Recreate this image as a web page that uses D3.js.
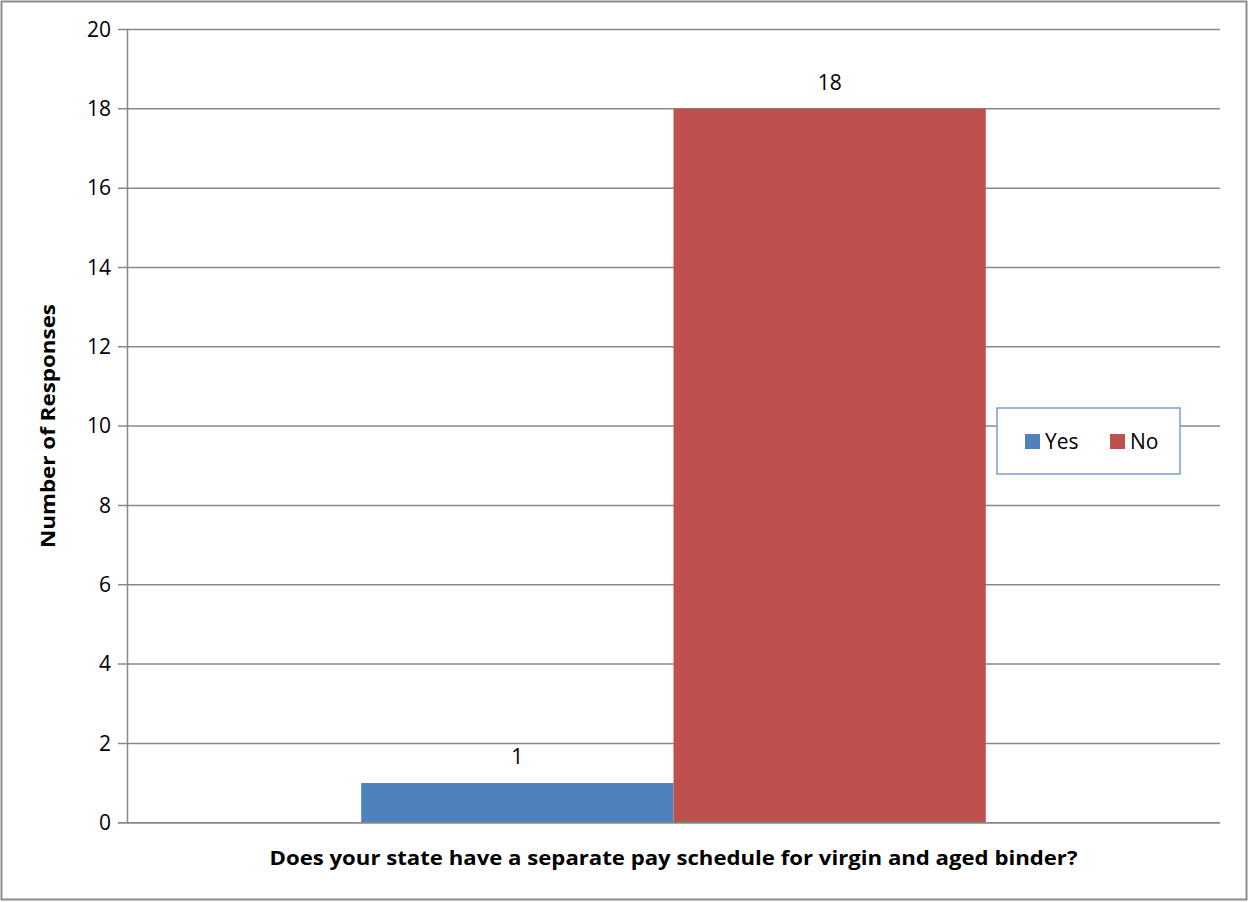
<!DOCTYPE html>
<html>
<head>
<meta charset="utf-8">
<script src="https://cdn.jsdelivr.net/npm/d3@7"></script>
<style>
  body { margin: 0; background: #fff; }
  text { font-family: "Open Sans", Lato, sans-serif; fill: #000; }
</style>
</head>
<body>
<div id="chart"></div>
<script>
// data
var categories = ["Does your state have a separate pay schedule for virgin and aged binder?"];
var seriesNames = ["Yes", "No"];
var seriesValues = [1, 18];
var seriesColors = ["#4f81bd", "#c0504d"];
var yTicks = [0, 2, 4, 6, 8, 10, 12, 14, 16, 18, 20];

var width = 1249;
var height = 902;

var svg = d3.select("#chart").append("svg")
  .attr("width", width)
  .attr("height", height);

// outer chart border
svg.append("rect")
  .attr("x", 1.5).attr("y", 1.5)
  .attr("width", width - 4).attr("height", height - 4)
  .attr("fill", "#fff")
  .attr("stroke", "#8c8c8c")
  .attr("stroke-width", 2);

var plotLeft = 127, plotRight = 1220, plotTop = 29.5, plotBottom = 822.7;

/* Scales */
var yScale = d3.scaleLinear()
  .domain([0, 20])
  .range([plotBottom, plotTop]);

var xScale = d3.scaleBand()
  .domain(categories)
  .range([plotLeft, plotRight]);

var xInner = d3.scaleBand()
  .domain(seriesNames)
  .range([0, xScale.bandwidth()])
  .paddingOuter(0.75);

/* grid lines */
svg.append("g")
  .selectAll("line")
  .data(yTicks).enter()
  .append("line")
  .attr("x1", plotLeft - 9)
  .attr("x2", plotRight)
  .attr("y1", d => yScale(d))
  .attr("y2", d => yScale(d))
  .attr("stroke", "#888")
  .attr("stroke-width", 1.5);

/* y axis */
var yAxis = d3.axisLeft(yScale).tickValues(yTicks).tickSize(0).tickPadding(16);
var yG = svg.append("g")
  .attr("transform", "translate(" + plotLeft + ",0)")
  .call(yAxis);
yG.select(".domain").attr("stroke", "#888").attr("stroke-width", 1.5);
yG.selectAll("text")
  .style("font-size", "21px")
  .style("font-family", "'Open Sans', sans-serif")
  .attr("fill", "#000");

/* bars */
var bars = seriesNames.map((n, i) => ({name: n, value: seriesValues[i], color: seriesColors[i]}));

svg.append("g")
  .selectAll("rect")
  .data(bars).enter()
  .append("rect")
  .attr("x", d => xScale(categories[0]) + xInner(d.name))
  .attr("width", xInner.bandwidth())
  .attr("y", d => yScale(d.value))
  .attr("height", d => yScale(0) - yScale(d.value))
  .attr("fill", d => d.color);

/* value labels */
svg.append("g")
  .selectAll("text")
  .data(bars).enter()
  .append("text")
  .attr("x", d => xScale(categories[0]) + xInner(d.name) + xInner.bandwidth() / 2)
  .attr("y", d => yScale(d.value) - 19)
  .attr("text-anchor", "middle")
  .style("font-size", "21px")
  .text(d => d.value);

/* x axis line on top */
svg.append("line")
  .attr("x1", plotLeft - 9).attr("x2", plotRight)
  .attr("y1", yScale(0)).attr("y2", yScale(0))
  .attr("stroke", "#888").attr("stroke-width", 1.5);

/* axis titles */
svg.append("text")
  .attr("x", xScale(categories[0]) + xScale.bandwidth() / 2)
  .attr("y", 865)
  .attr("text-anchor", "middle")
  .attr("textLength", 808)
  .attr("lengthAdjust", "spacingAndGlyphs")
  .style("font-size", "20px")
  .style("font-weight", "bold")
  .text(categories[0]);

svg.append("text")
  .attr("transform", "translate(55," + 426 + ") rotate(-90)")
  .attr("text-anchor", "middle")
  .attr("textLength", 244)
  .attr("lengthAdjust", "spacingAndGlyphs")
  .style("font-size", "20px")
  .style("font-weight", "bold")
  .text("Number of Responses");

/* legend */
var legend = svg.append("g").attr("transform", "translate(997,408)");
legend.append("rect")
  .attr("width", 183).attr("height", 66)
  .attr("fill", "#fff")
  .attr("stroke", "#7b9fd2")
  .attr("stroke-width", 1.5);

var legendX = [28, 113];
var items = legend.selectAll("g.item")
  .data(bars).enter()
  .append("g")
  .attr("class", "item")
  .attr("transform", (d, i) => "translate(" + legendX[i] + ",26)");
items.append("rect")
  .attr("width", 15).attr("height", 15)
  .attr("fill", d => d.color);
items.append("text")
  .attr("x", 20).attr("y", 15)
  .style("font-size", "21px")
  .text(d => d.name);
</script>
</body>
</html>
